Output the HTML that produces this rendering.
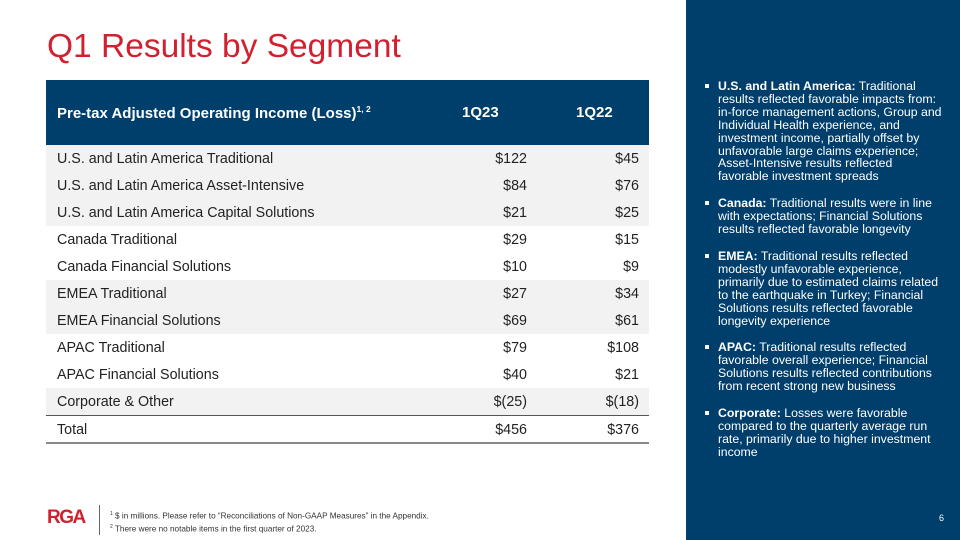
<!DOCTYPE html>
<html><head><meta charset="utf-8"><style>
body{margin:0;width:960px;height:540px;position:relative;background:#fff;font-family:"Liberation Sans",Arial,sans-serif;overflow:hidden}
h1{position:absolute;left:47px;top:28px;margin:0;font-weight:normal;font-size:33.5px;color:#d2202f}
.tbl{position:absolute;left:46px;top:80px;width:603px}
.hdr{height:65px;background:#003e6b;color:#fff;font-weight:bold;font-size:15px;position:relative}
.hdr span{position:absolute;top:24px}
.row{height:27px;position:relative;font-size:14.3px;color:#222}
.row span{position:absolute;top:6px}
.g{background:#f2f2f2}
.l{left:11px}.a{right:122px}.b{right:10px}
.side{position:absolute;left:686px;top:0;width:274px;height:540px;background:#003e6b;color:#fff;font-size:12.3px;line-height:12.9px}
.side ul{margin:0;padding:0;list-style:none;position:absolute;left:17px;top:80px;width:243px}
.side li{position:relative;padding-left:15px;margin-bottom:14px}
.side li:before{content:"";position:absolute;left:2px;top:4px;width:4px;height:4px;background:#fff}
.foot{position:absolute;left:110px;top:509px;font-size:8.2px;color:#333;line-height:10.5px}
</style></head><body>
<h1>Q1 Results by Segment</h1>
<div class="tbl">
<div class="hdr"><span style="left:11px">Pre-tax Adjusted Operating Income (Loss)<sup style="font-size:8.5px">1, 2</sup></span><span style="left:416px">1Q23</span><span style="left:530px">1Q22</span></div>
<div class="row g"><span class="l">U.S. and Latin America Traditional</span><span class="a">$122</span><span class="b">$45</span></div>
<div class="row g"><span class="l">U.S. and Latin America Asset-Intensive</span><span class="a">$84</span><span class="b">$76</span></div>
<div class="row g"><span class="l">U.S. and Latin America Capital Solutions</span><span class="a">$21</span><span class="b">$25</span></div>
<div class="row"><span class="l">Canada Traditional</span><span class="a">$29</span><span class="b">$15</span></div>
<div class="row"><span class="l">Canada Financial Solutions</span><span class="a">$10</span><span class="b">$9</span></div>
<div class="row g"><span class="l">EMEA Traditional</span><span class="a">$27</span><span class="b">$34</span></div>
<div class="row g"><span class="l">EMEA Financial Solutions</span><span class="a">$69</span><span class="b">$61</span></div>
<div class="row"><span class="l">APAC Traditional</span><span class="a">$79</span><span class="b">$108</span></div>
<div class="row"><span class="l">APAC Financial Solutions</span><span class="a">$40</span><span class="b">$21</span></div>
<div class="row g"><span class="l">Corporate &amp; Other</span><span class="a">$(25)</span><span class="b">$(18)</span></div>
<div class="row" style="border-top:1px solid #555;border-bottom:2px solid #888;height:26px"><span class="l">Total</span><span class="a">$456</span><span class="b">$376</span></div>
</div>
<div style="position:absolute;left:47px;top:507px;font-weight:bold;font-size:19px;color:#d2202f;letter-spacing:-1.5px">RGA</div>
<div style="position:absolute;left:99px;top:505px;width:1px;height:30px;background:#666"></div>
<div class="foot"><sup style="font-size:5px">1</sup> $ in millions. Please refer to “Reconciliations of Non-GAAP Measures” in the Appendix.<br><sup style="font-size:5px">2</sup> There were no notable items in the first quarter of 2023.</div>
<div class="side"><ul>
<li><b>U.S. and Latin America:</b> Traditional results reflected favorable impacts from: in-force management actions, Group and Individual Health experience, and investment income, partially offset by unfavorable large claims experience; Asset-Intensive results reflected favorable investment spreads</li>
<li><b>Canada:</b> Traditional results were in line with expectations; Financial Solutions results reflected favorable longevity</li>
<li><b>EMEA:</b> Traditional results reflected modestly unfavorable experience, primarily due to estimated claims related to the earthquake in Turkey; Financial Solutions results reflected favorable longevity experience</li>
<li><b>APAC:</b> Traditional results reflected favorable overall experience; Financial Solutions results reflected contributions from recent strong new business</li>
<li><b>Corporate:</b> Losses were favorable compared to the quarterly average run rate, primarily due to higher investment income</li>
</ul>
<div style="position:absolute;right:16px;top:512px;font-size:9px">6</div></div>
</body></html>
